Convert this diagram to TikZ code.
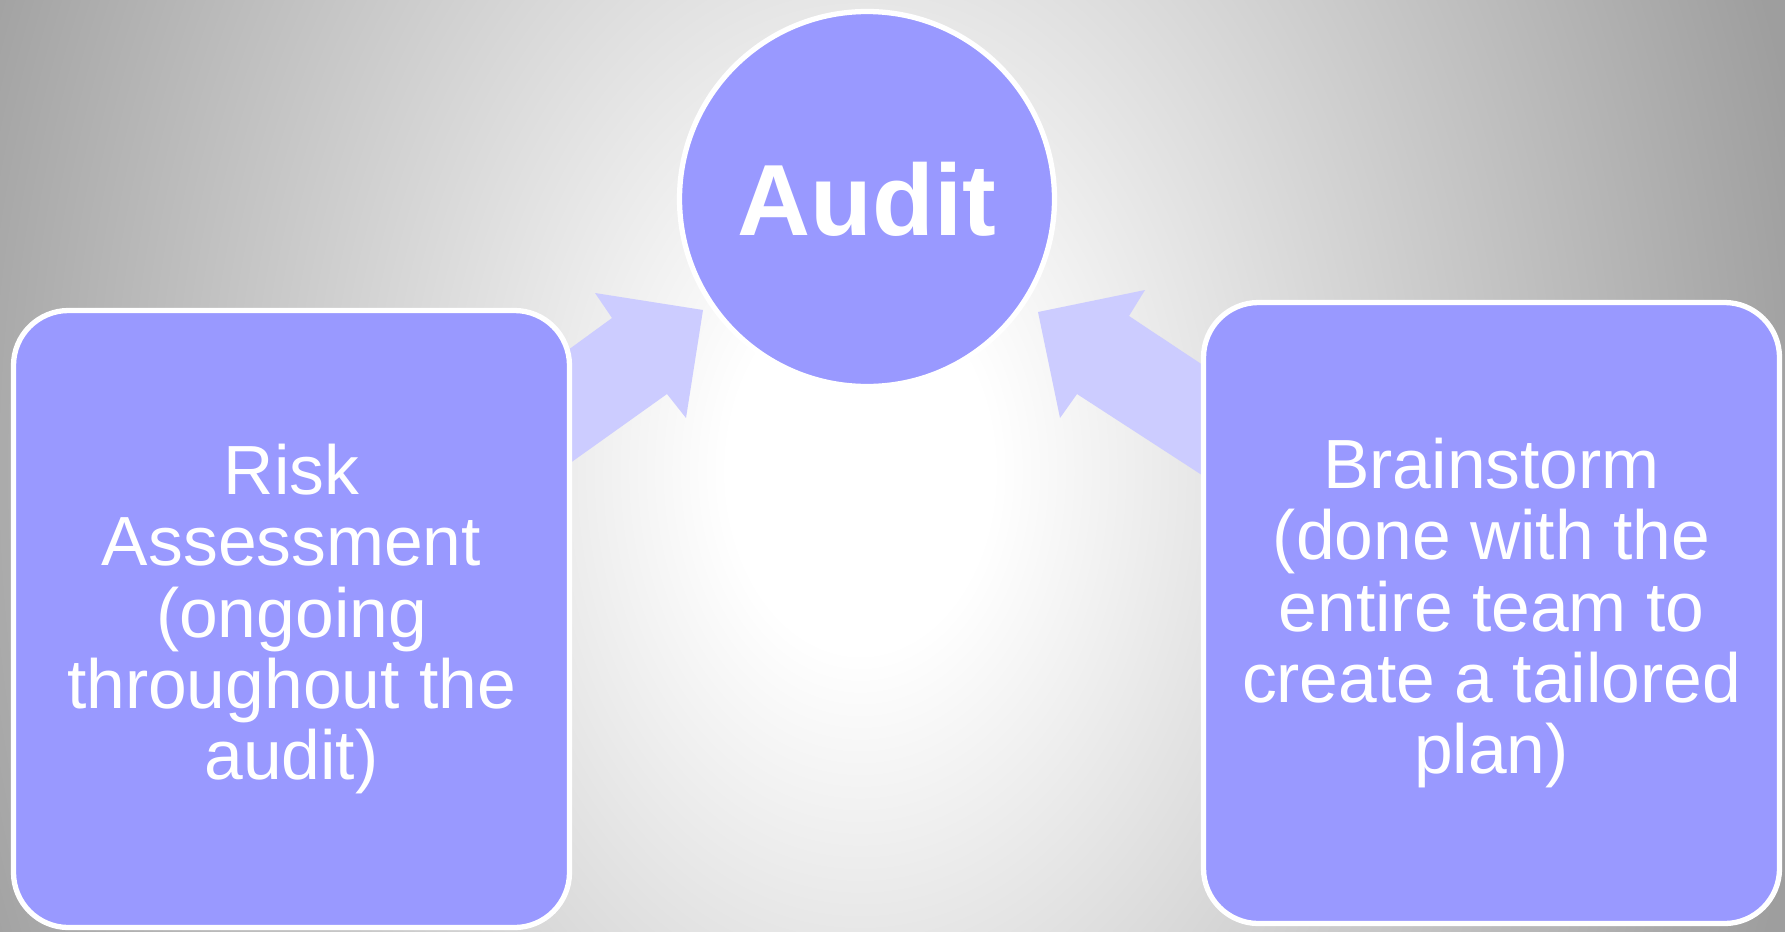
\documentclass[tikz,border=0pt]{standalone}
\usepackage{fontspec}
\setmainfont{Liberation Sans}

\definecolor{bgedge}{gray}{0.62}
\definecolor{boxfill}{RGB}{153,153,255}
\definecolor{arrowfill}{RGB}{204,204,255}
\pgfdeclareradialshading{glow}{\pgfpoint{0bp}{0bp}}{color(0bp)=(white); color(3bp)=(white); color(22bp)=(bgedge); color(50bp)=(bgedge)}

\begin{document}
\begin{tikzpicture}[line join=round,
    card/.style={draw=white, line width=1.5pt, fill=boxfill, rounded corners=0.55cm,
        text=white, align=center, font=\fontsize{19.8}{20.3}\selectfont,
        minimum width=5.56cm, minimum height=6.17cm},
    hub/.style={circle, draw=white, line width=1.5pt, fill=boxfill, inner sep=0pt,
        text=white, font=\fontsize{28.8}{30}\selectfont\bfseries, minimum size=3.75cm}]
    \useasboundingbox (0,0) rectangle (17.85,9.31);

    \begin{scope}
        \clip (0,0) rectangle (17.85,9.31);
        \shade[shading=glow] (8.6,4.6) ellipse (11 and 15);
    \end{scope}

    % left block arrow
    \coordinate (LT) at (7.03,6.21);
    \coordinate (LA) at (5.95,6.38);
    \coordinate (LN) at (6.12,6.13);
    \coordinate (LS) at (5.31,5.54);
    \coordinate (LR) at (5.45,4.50);
    \coordinate (LM) at (6.67,5.37);
    \coordinate (LB) at (6.86,5.13);
    \fill[arrowfill] (LT) -- (LA) -- (LN) -- (LS) -- (LR) -- (LM) -- (LB) -- cycle;

    % right block arrow
    \coordinate (RT) at (10.38,6.19);
    \coordinate (RA) at (11.45,6.41);
    \coordinate (RN) at (11.29,6.15);
    \coordinate (RS) at (12.54,5.32);
    \coordinate (RR) at (12.45,4.28);
    \coordinate (RM) at (10.77,5.37);
    \coordinate (RB) at (10.60,5.13);
    \fill[arrowfill] (RT) -- (RA) -- (RN) -- (RS) -- (RR) -- (RM) -- (RB) -- cycle;

    \node[hub] (audit) at (8.67,7.32) {Audit};

    \node[card] (risk) at (2.915,3.12)
        {Risk\\Assessment\\(ongoing\\throughout the\\audit)};
    \node[card, minimum width=5.76cm, minimum height=6.21cm] (brainstorm) at (14.915,3.18)
        {Brainstorm\\(done with the\\entire team to\\create a tailored\\plan)};
\end{tikzpicture}
\end{document}
